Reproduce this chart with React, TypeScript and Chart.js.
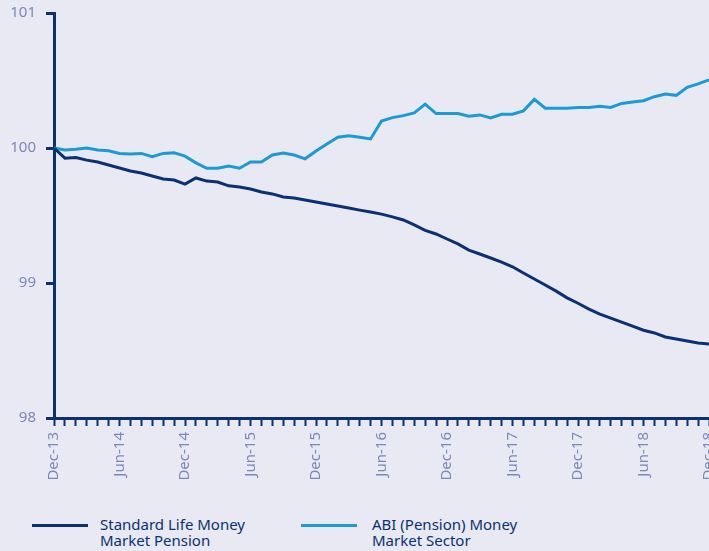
import React, { useEffect, useRef } from "react";
import { Chart, registerables } from "chart.js";

Chart.register(...registerables);

const months: string[] = [
  "Dec-13", "Jan-14", "Feb-14", "Mar-14", "Apr-14", "May-14", "Jun-14", "Jul-14", "Aug-14", "Sep-14", "Oct-14", "Nov-14",
  "Dec-14", "Jan-15", "Feb-15", "Mar-15", "Apr-15", "May-15", "Jun-15", "Jul-15", "Aug-15", "Sep-15", "Oct-15", "Nov-15",
  "Dec-15", "Jan-16", "Feb-16", "Mar-16", "Apr-16", "May-16", "Jun-16", "Jul-16", "Aug-16", "Sep-16", "Oct-16", "Nov-16",
  "Dec-16", "Jan-17", "Feb-17", "Mar-17", "Apr-17", "May-17", "Jun-17", "Jul-17", "Aug-17", "Sep-17", "Oct-17", "Nov-17",
  "Dec-17", "Jan-18", "Feb-18", "Mar-18", "Apr-18", "May-18", "Jun-18", "Jul-18", "Aug-18", "Sep-18", "Oct-18", "Nov-18",
  "Dec-18",
];

const standardLife: number[] = [
  100.0, 99.925, 99.93, 99.91, 99.896, 99.874, 99.852, 99.83, 99.815, 99.793, 99.77, 99.763,
  99.733, 99.778, 99.755, 99.748, 99.72, 99.711, 99.696, 99.674, 99.66, 99.637, 99.63, 99.615,
  99.6, 99.585, 99.57, 99.555, 99.54, 99.526, 99.51, 99.49, 99.467, 99.43, 99.39, 99.363,
  99.326, 99.29, 99.244, 99.215, 99.185, 99.155, 99.12, 99.074, 99.03, 98.985, 98.94, 98.89,
  98.85, 98.807, 98.77, 98.74, 98.71, 98.68, 98.65, 98.63, 98.6, 98.585, 98.57, 98.555,
  98.548,
];

const abiSector: number[] = [
  100.0, 99.985, 99.99, 100.0, 99.985, 99.98, 99.96, 99.955, 99.96, 99.935, 99.96, 99.965,
  99.94, 99.89, 99.85, 99.85, 99.867, 99.85, 99.896, 99.896, 99.948, 99.963, 99.948, 99.92,
  99.978, 100.03, 100.08, 100.09, 100.08, 100.067, 100.2, 100.225, 100.24, 100.26, 100.325, 100.255,
  100.255, 100.255, 100.235, 100.245, 100.222, 100.25, 100.25, 100.275, 100.36, 100.295, 100.295, 100.295,
  100.3, 100.3, 100.31, 100.3, 100.33, 100.34, 100.35, 100.38, 100.4, 100.39, 100.45, 100.475,
  100.504,
];

const yTicks: number[] = [98, 99, 100, 101];

const seriesNames: string[][] = [
  ["Standard Life Money", "Market Pension"],
  ["ABI (Pension) Money", "Market Sector"],
];

const NAVY = "#0b3173";
const LIGHT = "#1b9ad6";
const TICKTEXT = "#7f87b9";
const BG = "#e8e9f2";
const FONT = "'Noto Sans', 'DejaVu Sans', sans-serif";

const CANVAS_W = 730;
const CANVAS_H = 500;

export default function App() {
  const ref = useRef<HTMLCanvasElement | null>(null);

  useEffect(() => {
    if (!ref.current) return;
    const chart = new Chart(ref.current, {
      type: "line",
      data: {
        labels: months,
        datasets: [
          {
            label: seriesNames[0].join(" "),
            data: standardLife,
            borderColor: NAVY,
            backgroundColor: NAVY,
            borderWidth: 3,
            pointRadius: 0,
            tension: 0,
          },
          {
            label: seriesNames[1].join(" "),
            data: abiSector,
            borderColor: LIGHT,
            backgroundColor: LIGHT,
            borderWidth: 3,
            pointRadius: 0,
            tension: 0,
          },
        ],
      },
      options: {
        animation: false,
        responsive: false,
        maintainAspectRatio: false,
        layout: { padding: { top: 13, right: CANVAS_W - 709, bottom: 0, left: 0 } },
        plugins: { legend: { display: false }, tooltip: { enabled: false } },
        scales: {
          x: {
            offset: false,
            border: { display: true, color: NAVY, width: 3 },
            grid: {
              display: true,
              drawOnChartArea: false,
              drawTicks: true,
              tickLength: 8,
              tickColor: NAVY,
              tickWidth: 2,
            },
            ticks: {
              autoSkip: false,
              minRotation: 90,
              maxRotation: 90,
              padding: 6,
              color: TICKTEXT,
              font: { family: FONT, size: 15 },
              callback: (_v: any, i: number) => (i % 6 === 0 ? months[i] : ""),
            },
            afterFit: (s: any) => {
              s.height = CANVAS_H - 418;
              s.paddingLeft = 0;
              s.paddingRight = 0;
            },
          },
          y: {
            min: yTicks[0],
            max: yTicks[yTicks.length - 1],
            border: { display: true, color: NAVY, width: 3 },
            grid: {
              display: true,
              drawOnChartArea: false,
              drawTicks: true,
              tickLength: 8,
              tickColor: NAVY,
              tickWidth: 3,
            },
            afterBuildTicks: (s: any) => {
              s.ticks = yTicks.map((v) => ({ value: v }));
            },
            ticks: {
              padding: 10,
              color: TICKTEXT,
              font: { family: FONT, size: 15 },
              callback: (v: any) => String(v),
            },
            afterFit: (s: any) => {
              s.width = 54;
              s.paddingTop = 0;
              s.paddingBottom = 0;
            },
          },
        },
      },
    });
    return () => chart.destroy();
  }, []);

  const legendColors = [NAVY, LIGHT];
  const lineLefts = [32, 301];
  const textLefts = [100, 372];

  return (
    <div
      style={{
        position: "fixed",
        left: 0,
        top: 0,
        width: 709,
        height: 551,
        overflow: "hidden",
        background: BG,
      }}
    >
      <canvas
        ref={ref}
        width={CANVAS_W}
        height={CANVAS_H}
        style={{ position: "absolute", left: 0, top: 0, width: CANVAS_W, height: CANVAS_H }}
      />
      {seriesNames.map((name, i) => (
        <React.Fragment key={i}>
          <div
            style={{
              position: "absolute",
              left: lineLefts[i],
              top: 524,
              width: 56,
              height: 3,
              background: legendColors[i],
            }}
          />
          <div
            style={{
              position: "absolute",
              left: textLefts[i],
              top: 516,
              fontFamily: FONT,
              fontSize: 15,
              lineHeight: "16px",
              color: NAVY,
              whiteSpace: "nowrap",
            }}
          >
            {name[0]}
            <br />
            {name[1]}
          </div>
        </React.Fragment>
      ))}
    </div>
  );
}
